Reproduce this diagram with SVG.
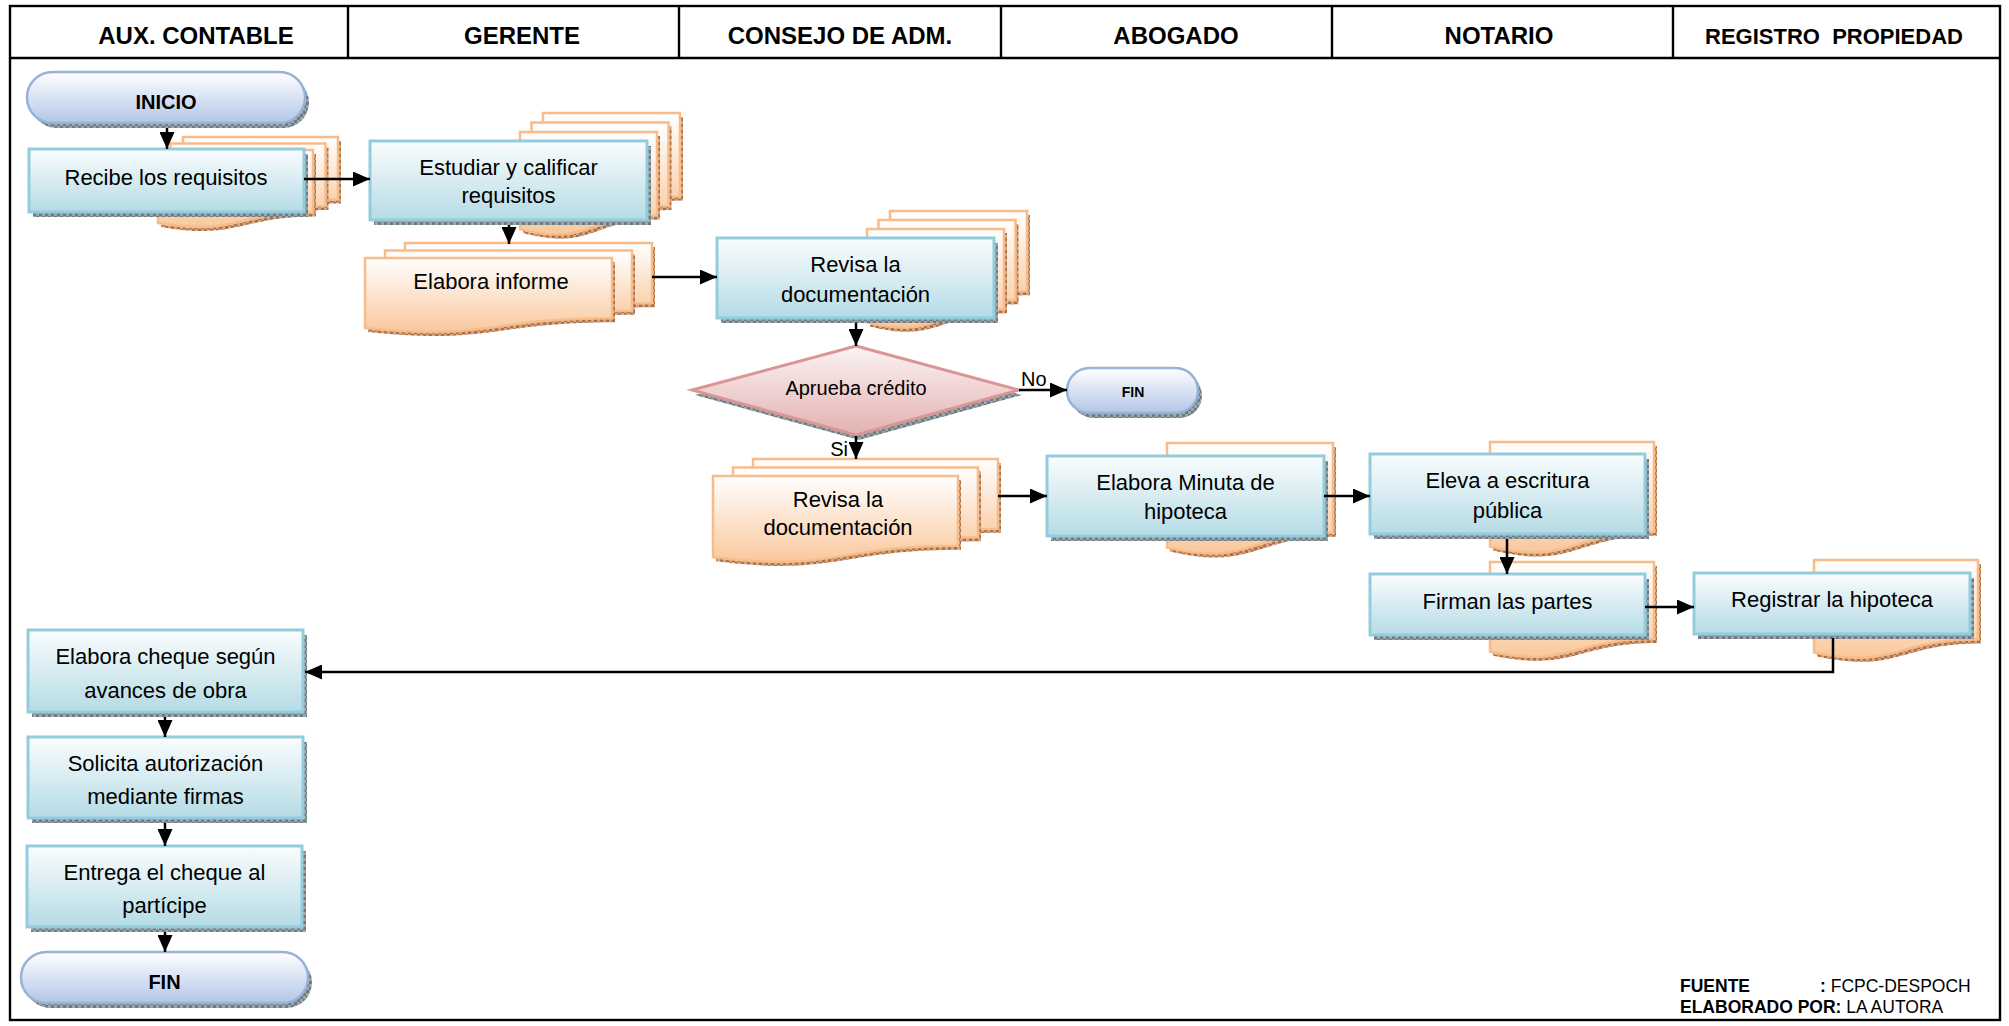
<svg xmlns="http://www.w3.org/2000/svg" width="2009" height="1026" viewBox="0 0 2009 1026">
<defs>
<linearGradient id="gProc" x1="0" y1="0" x2="0" y2="1"><stop offset="0" stop-color="#FAFDFE"/><stop offset="1" stop-color="#B5DBE5"/></linearGradient>
<linearGradient id="gDoc" x1="0" y1="0" x2="0" y2="1"><stop offset="0" stop-color="#FFFFFF"/><stop offset="1" stop-color="#F9C89D"/></linearGradient>
<linearGradient id="gTerm" x1="0" y1="0" x2="0" y2="1"><stop offset="0" stop-color="#FFFFFF"/><stop offset="1" stop-color="#B3C6E6"/></linearGradient>
<linearGradient id="gDia" x1="0" y1="0" x2="0" y2="1"><stop offset="0" stop-color="#FCF3F3"/><stop offset="1" stop-color="#E2B1B1"/></linearGradient>
<pattern id="pG" width="6" height="6" patternUnits="userSpaceOnUse"><rect width="6" height="6" fill="#9AA6AB"/><path d="M0,0h3v3h-3zM3,3h3v3h-3z" fill="#6E7B80"/></pattern>
<pattern id="pB" width="6" height="6" patternUnits="userSpaceOnUse"><rect width="6" height="6" fill="#D6A57E"/><path d="M0,0h3v3h-3zM3,3h3v3h-3z" fill="#A8714A"/></pattern>
<marker id="ah" markerUnits="userSpaceOnUse" markerWidth="17" markerHeight="15" refX="17" refY="7.5" orient="auto"><path d="M0,0 L17,7.5 L0,15 Z" fill="#000"/></marker>
</defs>
<style>
.grid{fill:none;stroke:#000;stroke-width:2.4}
.proc{fill:url(#gProc);stroke:#93CDDD;stroke-width:3}
.doc{fill:url(#gDoc);stroke:#F8BC8A;stroke-width:2.5}
.term{fill:url(#gTerm);stroke:#95B3D7;stroke-width:2.5}
.dia{fill:url(#gDia);stroke:#D99694;stroke-width:3}
.shd{fill:url(#pG)}
.shb{fill:url(#pB)}
.t{font-family:"Liberation Sans",Arial,sans-serif;font-size:22px;fill:#000;text-anchor:middle}
.h{font-family:"Liberation Sans",Arial,sans-serif;font-size:24px;font-weight:bold;fill:#000;text-anchor:middle}
.tb{font-family:"Liberation Sans",Arial,sans-serif;font-size:20px;font-weight:bold;fill:#000;text-anchor:middle}
.lbl{font-family:"Liberation Sans",Arial,sans-serif;font-size:20px;fill:#000}
.f{font-family:"Liberation Sans",Arial,sans-serif;font-size:17.5px;fill:#000}
.c{fill:none;stroke:#000;stroke-width:2.5;marker-end:url(#ah)}
</style>
<rect width="2009" height="1026" fill="#FFFFFF"/>

<g id="table">
<rect class="grid" x="10" y="6" width="1990" height="1014"/>
<line class="grid" x1="10" y1="58" x2="2000" y2="58"/>
<line class="grid" x1="348" y1="6" x2="348" y2="58"/>
<line class="grid" x1="679" y1="6" x2="679" y2="58"/>
<line class="grid" x1="1001" y1="6" x2="1001" y2="58"/>
<line class="grid" x1="1332" y1="6" x2="1332" y2="58"/>
<line class="grid" x1="1673" y1="6" x2="1673" y2="58"/>
<text class="h" x="196" y="44">AUX. CONTABLE</text>
<text class="h" x="522" y="44">GERENTE</text>
<text class="h" x="840" y="44">CONSEJO DE ADM.</text>
<text class="h" x="1176" y="44">ABOGADO</text>
<text class="h" x="1499" y="44">NOTARIO</text>
<text class="h" x="1834" y="44" style="font-size:22px;white-space:pre">REGISTRO  PROPIEDAD</text>
</g>

<g id="n-inicio">
<rect class="shd" x="31" y="77" width="278" height="51" rx="25.5"/>
<rect class="term" x="27" y="72" width="278" height="51" rx="25.5"/>
<text class="tb" x="166" y="109">INICIO</text>
</g>

<g id="n-recibe">
<path class="shb" transform="translate(3,4)" d="M183,137 H338 V199.6 C260.5,199.6 260.5,223.3 183,209.9 Z"/>
<path class="doc" d="M183,137 H338 V199.6 C260.5,199.6 260.5,223.3 183,209.9 Z"/>
<path class="shb" transform="translate(3,4)" d="M170.5,143.5 H325.5 V206.1 C248,206.1 248,229.8 170.5,216.4 Z"/>
<path class="doc" d="M170.5,143.5 H325.5 V206.1 C248,206.1 248,229.8 170.5,216.4 Z"/>
<path class="shb" transform="translate(3,4)" d="M158,150 H313 V212.6 C235.5,212.6 235.5,236.3 158,222.9 Z"/>
<path class="doc" d="M158,150 H313 V212.6 C235.5,212.6 235.5,236.3 158,222.9 Z"/>
<rect class="shd" x="33" y="154" width="275" height="63"/>
<rect class="proc" x="29" y="149" width="275" height="63"/>
<text class="t" x="166" y="185">Recibe los requisitos</text>
</g>

<g id="n-estudiar">
<path class="shb" transform="translate(3,4)" d="M543,113 H680 V196.4 C611.5,196.4 611.5,228.1 543,210.1 Z"/>
<path class="doc" d="M543,113 H680 V196.4 C611.5,196.4 611.5,228.1 543,210.1 Z"/>
<path class="shb" transform="translate(3,4)" d="M531.5,122.5 H668.5 V205.9 C600,205.9 600,237.6 531.5,219.6 Z"/>
<path class="doc" d="M531.5,122.5 H668.5 V205.9 C600,205.9 600,237.6 531.5,219.6 Z"/>
<path class="shb" transform="translate(3,4)" d="M520,132 H657 V215.4 C588.5,215.4 588.5,247.1 520,229.1 Z"/>
<path class="doc" d="M520,132 H657 V215.4 C588.5,215.4 588.5,247.1 520,229.1 Z"/>
<rect class="shd" x="374" y="146" width="277" height="79"/>
<rect class="proc" x="370" y="141" width="277" height="79"/>
<text class="t" x="508.5" y="175">Estudiar y calificar</text>
<text class="t" x="508.5" y="203">requisitos</text>
</g>

<g id="n-informe">
<path class="shb" transform="translate(3,4)" d="M405,243 H652 V303.2 C528.5,303.2 528.5,326 405,313 Z"/>
<path class="doc" d="M405,243 H652 V303.2 C528.5,303.2 528.5,326 405,313 Z"/>
<path class="shb" transform="translate(3,4)" d="M385,250.5 H632 V310.7 C508.5,310.7 508.5,333.5 385,320.5 Z"/>
<path class="doc" d="M385,250.5 H632 V310.7 C508.5,310.7 508.5,333.5 385,320.5 Z"/>
<path class="shb" transform="translate(3,4)" d="M365,258 H612 V318.2 C488.5,318.2 488.5,341 365,328 Z"/>
<path class="doc" d="M365,258 H612 V318.2 C488.5,318.2 488.5,341 365,328 Z"/>
<text class="t" x="491" y="289">Elabora informe</text>
</g>

<g id="n-revisa1">
<path class="shb" transform="translate(3,4)" d="M890,211 H1027 V291.2 C958.5,291.2 958.5,321.7 890,304.4 Z"/>
<path class="doc" d="M890,211 H1027 V291.2 C958.5,291.2 958.5,321.7 890,304.4 Z"/>
<path class="shb" transform="translate(3,4)" d="M878.5,220 H1015.5 V300.2 C947,300.2 947,330.7 878.5,313.4 Z"/>
<path class="doc" d="M878.5,220 H1015.5 V300.2 C947,300.2 947,330.7 878.5,313.4 Z"/>
<path class="shb" transform="translate(3,4)" d="M867,229 H1004 V309.2 C935.5,309.2 935.5,339.7 867,322.4 Z"/>
<path class="doc" d="M867,229 H1004 V309.2 C935.5,309.2 935.5,339.7 867,322.4 Z"/>
<rect class="shd" x="721" y="243" width="277" height="80"/>
<rect class="proc" x="717" y="238" width="277" height="80"/>
<text class="t" x="855.5" y="272">Revisa la</text>
<text class="t" x="855.5" y="302">documentación</text>
</g>

<g id="n-aprueba">
<polygon class="shd" transform="translate(3,5)" points="856,346 1019,390 856,435 692,390"/>
<polygon class="dia" points="856,346 1019,390 856,435 692,390"/>
<text class="t" x="856" y="395" style="font-size:20px">Aprueba crédito</text>
</g>

<g id="n-fin1">
<rect class="shd" x="1071" y="373" width="131" height="45" rx="22.5"/>
<rect class="term" x="1067" y="368" width="131" height="45" rx="22.5"/>
<text class="tb" x="1133" y="397" style="font-size:14px">FIN</text>
</g>

<g id="n-revisa2">
<path class="shb" transform="translate(3,4)" d="M753,459 H998 V528.8 C875.5,528.8 875.5,555.3 753,540.3 Z"/>
<path class="doc" d="M753,459 H998 V528.8 C875.5,528.8 875.5,555.3 753,540.3 Z"/>
<path class="shb" transform="translate(3,4)" d="M733,467.5 H978 V537.3 C855.5,537.3 855.5,563.8 733,548.8 Z"/>
<path class="doc" d="M733,467.5 H978 V537.3 C855.5,537.3 855.5,563.8 733,548.8 Z"/>
<path class="shb" transform="translate(3,4)" d="M713,476 H958 V545.8 C835.5,545.8 835.5,572.3 713,557.3 Z"/>
<path class="doc" d="M713,476 H958 V545.8 C835.5,545.8 835.5,572.3 713,557.3 Z"/>
<text class="t" x="838" y="507">Revisa la</text>
<text class="t" x="838" y="535">documentación</text>
</g>

<g id="n-minuta">
<path class="shb" transform="translate(3,4)" d="M1167,443 H1333 V532.8 C1250,532.8 1250,567 1167,547.6 Z"/>
<path class="doc" d="M1167,443 H1333 V532.8 C1250,532.8 1250,567 1167,547.6 Z"/>
<rect class="shd" x="1051" y="461" width="277" height="80"/>
<rect class="proc" x="1047" y="456" width="277" height="80"/>
<text class="t" x="1185.5" y="490">Elabora Minuta de</text>
<text class="t" x="1185.5" y="519">hipoteca</text>
</g>

<g id="n-eleva">
<path class="shb" transform="translate(3,4)" d="M1490,442 H1654 V531.8 C1572,531.8 1572,566 1490,546.6 Z"/>
<path class="doc" d="M1490,442 H1654 V531.8 C1572,531.8 1572,566 1490,546.6 Z"/>
<rect class="shd" x="1374" y="459" width="275" height="80"/>
<rect class="proc" x="1370" y="454" width="275" height="80"/>
<text class="t" x="1507.5" y="488">Eleva a escritura</text>
<text class="t" x="1507.5" y="518">pública</text>
</g>

<g id="n-firman">
<path class="shb" transform="translate(3,4)" d="M1490,562 H1654 V639 C1572,639 1572,668.3 1490,651.7 Z"/>
<path class="doc" d="M1490,562 H1654 V639 C1572,639 1572,668.3 1490,651.7 Z"/>
<rect class="shd" x="1374" y="579" width="275" height="61"/>
<rect class="proc" x="1370" y="574" width="275" height="61"/>
<text class="t" x="1507.5" y="609">Firman las partes</text>
</g>

<g id="n-registrar">
<path class="shb" transform="translate(3,4)" d="M1814,560 H1978 V639.4 C1896,639.4 1896,669.6 1814,652.5 Z"/>
<path class="doc" d="M1814,560 H1978 V639.4 C1896,639.4 1896,669.6 1814,652.5 Z"/>
<rect class="shd" x="1698" y="578" width="276" height="61"/>
<rect class="proc" x="1694" y="573" width="276" height="61"/>
<text class="t" x="1832" y="607">Registrar la hipoteca</text>
</g>

<g id="n-cheque">
<rect class="shd" x="32" y="635" width="275" height="82"/>
<rect class="proc" x="28" y="630" width="275" height="82"/>
<text class="t" x="165.5" y="664">Elabora cheque según</text>
<text class="t" x="165.5" y="698">avances de obra</text>
</g>

<g id="n-solicita">
<rect class="shd" x="32" y="742" width="275" height="81"/>
<rect class="proc" x="28" y="737" width="275" height="81"/>
<text class="t" x="165.5" y="771">Solicita autorización</text>
<text class="t" x="165.5" y="804">mediante firmas</text>
</g>

<g id="n-entrega">
<rect class="shd" x="31" y="851" width="275" height="81"/>
<rect class="proc" x="27" y="846" width="275" height="81"/>
<text class="t" x="164.5" y="880">Entrega el cheque al</text>
<text class="t" x="164.5" y="913">partícipe</text>
</g>

<g id="n-fin2">
<rect class="shd" x="25" y="957" width="287" height="51" rx="25.5"/>
<rect class="term" x="21" y="952" width="287" height="51" rx="25.5"/>
<text class="tb" x="164.5" y="989">FIN</text>
</g>

<g id="connectors">
<path class="c" d="M167,128 V149"/>
<path class="c" d="M304,179 H370"/>
<path class="c" d="M509,225 V244"/>
<path class="c" d="M652,277 H717"/>
<path class="c" d="M856,323 V346"/>
<path class="c" d="M1019,390 H1067"/>
<path class="c" d="M856,436 V459"/>
<path class="c" d="M998,496 H1047"/>
<path class="c" d="M1324,496 H1370"/>
<path class="c" d="M1507,539 V574"/>
<path class="c" d="M1645,607 H1694"/>
<path class="c" d="M1833,638 V672 H305"/>
<path class="c" d="M165,717 V737"/>
<path class="c" d="M165,823 V846"/>
<path class="c" d="M165,932 V952"/>
<text class="lbl" x="1021" y="386">No</text>
<text class="lbl" x="848" y="456" text-anchor="end">Si</text>
</g>

<g id="footer">
<text class="f" x="1680" y="992" font-weight="bold">FUENTE</text>
<text class="f" x="1820" y="992"><tspan font-weight="bold">:</tspan> FCPC-DESPOCH</text>
<text class="f" x="1680" y="1013"><tspan font-weight="bold">ELABORADO POR:</tspan> LA AUTORA</text>
</g>
</svg>
